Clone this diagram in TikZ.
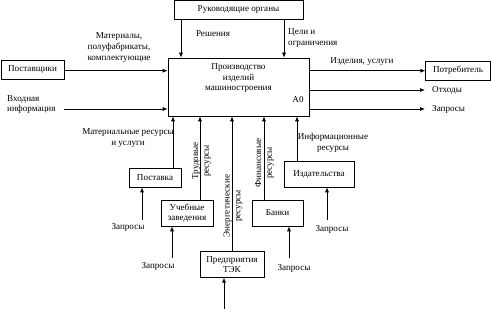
\documentclass[tikz,border=0pt]{standalone}
\usepackage{fontspec}
\setmainfont{Liberation Serif}
\usetikzlibrary{arrows.meta}
\begin{document}
\begin{tikzpicture}[x=1pt,y=-1pt,
  font=\fontsize{9.1}{10.6}\selectfont,
  box/.style={draw, line width=0.7pt, inner sep=0pt, align=center},
  lbl/.style={inner sep=0pt, align=center},
  arr/.style={line width=0.7pt, -{Latex[length=5pt,width=4pt]}}]
\useasboundingbox (0,0) rectangle (491,328);
% boxes
\node[box, minimum width=129pt, minimum height=19pt] (ruk) at (238.5,9.5) {Руководящие органы};
\node[box, minimum width=141pt, minimum height=58pt] (main) at (238.5,87) {};
\node[lbl, anchor=north] (maintxt) at (238.5,63.5) {Производство\\изделий\\машиностроения};
\node[lbl] (a0) at (298,100) {A0};
\node[box, minimum width=63pt, minimum height=19.5pt] (post) at (32.5,69.8) {Поставщики};
\node[box, minimum width=64.5pt, minimum height=19pt] (potr) at (458,70.5) {Потребитель};
\node[box, minimum width=52pt, minimum height=19pt] (pstv) at (155,177.5) {Поставка};
\node[box, minimum width=52pt, minimum height=26pt] (ucheb) at (187,213) {Учебные\\заведения};
\node[box, minimum width=64pt, minimum height=25.5pt] (tek) at (232,264.5) {Предприятия\\ТЭК};
\node[box, minimum width=51pt, minimum height=26pt] (bank) at (277.5,213) {Банки};
\node[box, minimum width=70pt, minimum height=26pt] (izd) at (319,174) {Издательства};
% coordinates
\coordinate (x173) at (173,0);
\coordinate (x200) at (200,0);
\coordinate (x232) at (232,0);
\coordinate (x264) at (264,0);
\coordinate (x297) at (297,0);
\coordinate (xr) at (181,0);
\coordinate (xc) at (284,0);
\coordinate (yi) at (0,70.7);
\coordinate (yvh) at (0,109);
\coordinate (vhod) at (64,109);
\coordinate (otx) at (425,90);
\coordinate (zapo) at (425,109);
\coordinate (z1) at (142,220);
\coordinate (z2) at (172,258);
\coordinate (z3) at (224,309);
\coordinate (z4) at (289,258);
\coordinate (z5) at (327,220);
% arrows top
\draw[arr] (ruk.south -| xr) -- (main.north -| xr);
\draw[arr] (ruk.south -| xc) -- (main.north -| xc);
% left
\draw[arr] (post.east |- yi) -- (main.west |- yi);
\draw[arr] (vhod) -- (main.west |- yvh);
% right
\draw[arr] (main.east |- yi) -- (potr.west |- yi);
\draw[arr] (main.east |- otx) -- (otx);
\draw[arr] (main.east |- zapo) -- (zapo);
% bottom
\draw[arr] (pstv.north -| x173) -- (main.south -| x173);
\draw[arr] (ucheb.north -| x200) -- (main.south -| x200);
\draw[arr] (tek.north -| x232) -- (main.south -| x232);
\draw[arr] (bank.north -| x264) -- (main.south -| x264);
\draw[arr] (izd.north -| x297) -- (main.south -| x297);
% requests
\draw[arr] (z1) -- (pstv.south -| z1);
\draw[arr] (z2) -- (ucheb.south -| z2);
\draw[arr] (z3) -- (tek.south -| z3);
\draw[arr] (z4) -- (bank.south -| z4);
\draw[arr] (z5) -- (izd.south -| z5);
% labels
\node[lbl] (resh) at (213,34) {Решения};
\node[lbl, anchor=west, align=left] (celi) at (288,38) {Цели и\\ограничения};
\node[lbl] (mat) at (119,47.5) {Материалы,\\полуфабрикаты,\\комплектующие};
\node[lbl, anchor=west, align=left] (vhtxt) at (7,104.5) {Входная\\информация};
\node[lbl] (izdel) at (362,62) {Изделия, услуги};
\node[lbl, anchor=west] (otxtxt) at (432,90) {Отходы};
\node[lbl, anchor=west] (zaptxt) at (432,109) {Запросы};
\node[lbl] (matres) at (128,138) {Материальные ресурсы\\и услуги};
\node[lbl, rotate=90] (trud) at (201.5,161) {Трудовые\\ресурсы};
\node[lbl, rotate=90] (energ) at (233,206) {Энергетические\\ресурсы};
\node[lbl, rotate=90] (fin) at (264.5,163) {Финансовые\\ресурсы};
\node[lbl] (infres) at (333,143) {Информационные\\ресурсы};
\node[lbl] (zq1) at (128,227) {Запросы};
\node[lbl] (zq2) at (158,266) {Запросы};
\node[lbl] (zq4) at (294,268) {Запросы};
\node[lbl] (zq5) at (332,229) {Запросы};
\end{tikzpicture}
\end{document}
